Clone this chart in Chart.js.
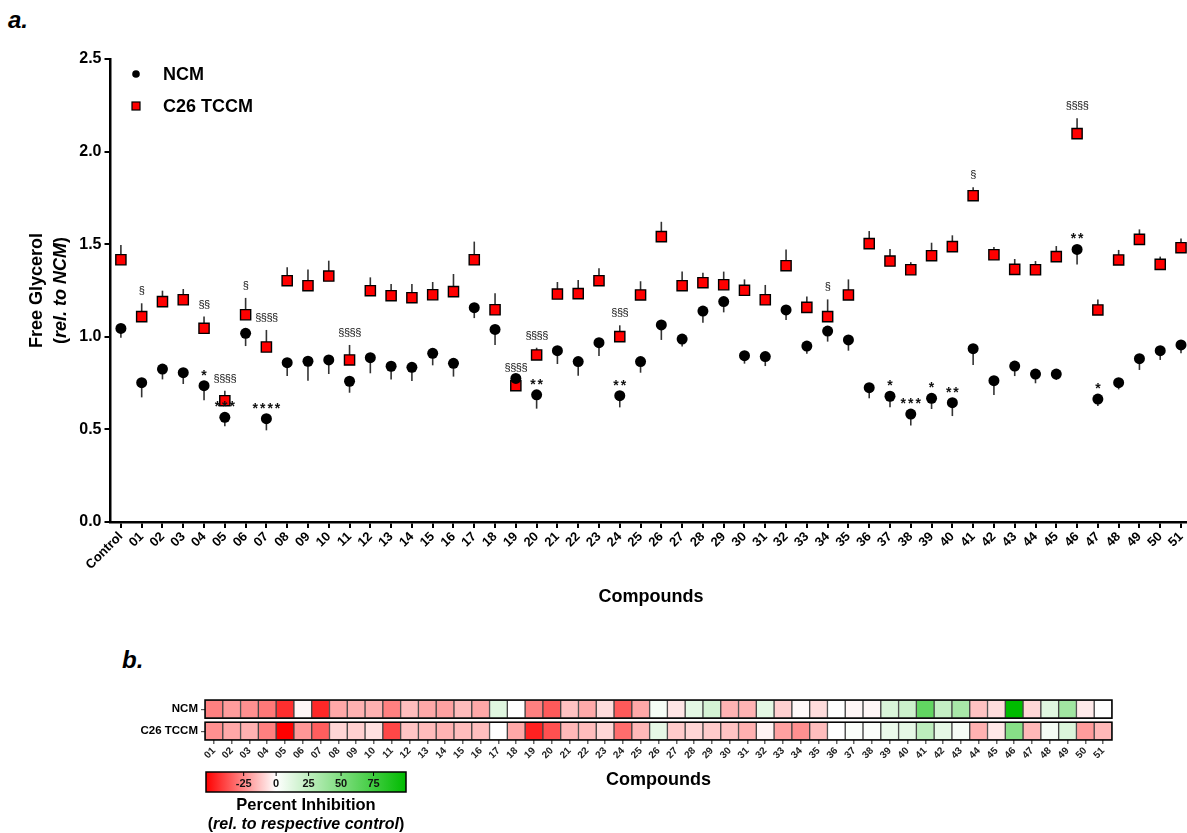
<!DOCTYPE html>
<html lang="en">
<head>
  <meta charset="UTF-8" />
  <title>Free Glycerol screen</title>
  <script src="https://cdn.jsdelivr.net/npm/chart.js"></script>
  <style>
    body {
      margin: 0;
      background: #fff;
      overflow: hidden;
      width: 1187px;
      height: 833px;
      position: relative;
      font-family: Arial, 'Liberation Sans', sans-serif;
    }
    .panel-tag {
      position: absolute;
      font-weight: bold;
      font-style: italic;
      font-size: 24px;
      color: #000;
    }
    #glycerolChart { position: absolute; left: 0; top: 0; }
    #heatChart { position: absolute; left: 0; top: 640px; }
  </style>
</head>
<body>
  <div class="panel-tag" style="left:8px; top:6px;">a.</div>
  <div class="panel-tag" style="left:122px; top:646px;">b.</div>
  <canvas id="glycerolChart" width="1200" height="612"></canvas>
  <canvas id="heatChart" width="1187" height="193"></canvas>

  <script>
    const FONT = "Arial, 'Liberation Sans', sans-serif";

    // ---- panel a: free glycerol ----
    const compounds = ['Control',
      '01','02','03','04','05','06','07','08','09','10',
      '11','12','13','14','15','16','17','18','19','20',
      '21','22','23','24','25','26','27','28','29','30',
      '31','32','33','34','35','36','37','38','39','40',
      '41','42','43','44','45','46','47','48','49','50','51'];

    const ncmMean = [
      1.045, 0.752, 0.826, 0.806, 0.736, 0.565, 1.019, 0.558, 0.860, 0.868,
      0.875, 0.760, 0.887, 0.841, 0.835, 0.911, 0.857, 1.157, 1.040, 0.775,
      0.687, 0.925, 0.866, 0.968, 0.682, 0.866, 1.064, 0.988, 1.139, 1.190,
      0.898, 0.893, 1.145, 0.950, 1.031, 0.983, 0.725, 0.679, 0.583, 0.668,
      0.644, 0.936, 0.763, 0.842, 0.799, 0.799, 1.472, 0.664, 0.752, 0.882,
      0.925, 0.956];
    const ncmSem = [
      0.050, 0.079, 0.056, 0.061, 0.079, 0.048, 0.069, 0.063, 0.072, 0.105,
      0.076, 0.062, 0.084, 0.071, 0.074, 0.065, 0.072, 0.056, 0.084, 0.065,
      0.075, 0.072, 0.076, 0.072, 0.063, 0.060, 0.081, 0.041, 0.063, 0.058,
      0.043, 0.051, 0.054, 0.041, 0.057, 0.058, 0.057, 0.060, 0.062, 0.058,
      0.072, 0.088, 0.077, 0.054, 0.050, 0.032, 0.081, 0.038, 0.036, 0.061,
      0.050, 0.045];

    const tccmMean = [
      1.416, 1.109, 1.190, 1.200, 1.046, 0.655, 1.119, 0.945, 1.303, 1.276,
      1.328, 0.875, 1.249, 1.222, 1.211, 1.227, 1.244, 1.416, 1.146, 0.736,
      0.902, 1.231, 1.233, 1.303, 1.001, 1.226, 1.541, 1.276, 1.292, 1.281,
      1.251, 1.200, 1.384, 1.159, 1.109, 1.226, 1.503, 1.409, 1.362, 1.438,
      1.487, 1.762, 1.443, 1.364, 1.362, 1.433, 2.097, 1.145, 1.415, 1.526,
      1.391, 1.481];
    const tccmSem = [
      0.080, 0.072, 0.059, 0.058, 0.063, 0.054, 0.091, 0.092, 0.072, 0.088,
      0.083, 0.081, 0.072, 0.063, 0.074, 0.069, 0.095, 0.098, 0.089, 0.030,
      0.039, 0.065, 0.074, 0.067, 0.061, 0.074, 0.080, 0.076, 0.054, 0.071,
      0.059, 0.080, 0.088, 0.058, 0.093, 0.084, 0.068, 0.065, 0.041, 0.070,
      0.061, 0.045, 0.042, 0.056, 0.047, 0.057, 0.083, 0.057, 0.054, 0.054,
      0.042, 0.050];

    // * = vs NCM control, § = vs C26 TCCM control
    const ncmSig = [
      '', '', '', '', '*', '***', '', '****', '', '',
      '', '', '', '', '', '', '', '', '', '',
      '**', '', '', '', '**', '', '', '', '', '',
      '', '', '', '', '', '', '', '*', '***', '*',
      '**', '', '', '', '', '', '**', '*', '', '',
      '', ''];
    const tccmSig = [
      '', '§', '', '', '§§', '§§§§', '§', '§§§§', '', '',
      '', '§§§§', '', '', '', '', '', '', '', '§§§§',
      '§§§§', '', '', '', '§§§', '', '', '', '', '',
      '', '', '', '', '§', '', '', '', '', '',
      '', '§', '', '', '', '', '§§§§', '', '', '',
      '', ''];

    const yTicks = [0, 0.5, 1.0, 1.5, 2.0, 2.5];

    // ---- panel b: heatmap ----
    const heatLabels = compounds.slice(1);
    const heatRows = ['C26 TCCM', 'NCM'];
    const ncmInhib = [
      -27, -21, -23.5, -28.5, -44, -2, -45.5, -18.5, -16.5, -16.5,
      -27, -14, -18.5, -20, -14.5, -18.5, 12, 0, -27, -35,
      -13, -18, -7.5, -35, -18.5, 3.5, -5.5, 10.5, 17, -16,
      -16, 10.5, -10, -1.5, -7.5, 0, -2, -2, 15, 20,
      62, 23, 34, -13, -7.5, 100, -8.5, 12, 37, -4.5,
      0];
    const tccmInhib = [
      -23.5, -18.5, -16.5, -27, -54, -22, -34, -9, -10, -6.5,
      -39, -12.5, -14.5, -16, -14, -13.5, 0, -18.5, -47, -37,
      -15, -14, -8.5, -31, -15, 10, -11, -9, -11, -12.5,
      -16.5, -2.5, -20, -23.5, -14, 0, 2, 2, 8, 10,
      26, 10, 4, -16.5, -5, 47, -15, 4, 14, -21,
      -15];
    const colorMin = -54, colorMax = 100;
    const colorTicks = [-25, 0, 25, 50, 75];

    Chart.defaults.font.family = FONT;
    Chart.defaults.color = '#000';

    function heatColor(v) {
      if (v < 0) {
        const t = Math.min(1, v / colorMin);
        const c = Math.round(255 * (1 - t));
        return `rgb(255,${c},${c})`;
      }
      const t = Math.min(1, v / colorMax);
      const c = Math.round(255 * (1 - t));
      return `rgb(${c},${Math.round(255 - 68 * t)},${c})`;
    }

    // error bars: NCM downwards, TCCM upwards
    const errorBars = {
      id: 'errorBars',
      beforeDatasetsDraw(chart) {
        const { ctx, scales: { y } } = chart;
        ctx.save();
        ctx.strokeStyle = '#333';
        ctx.lineWidth = 1.6;
        [[0, ncmSem, -1], [1, tccmSem, 1]].forEach(([di, sem, dir]) => {
          const vals = chart.data.datasets[di].data;
          chart.getDatasetMeta(di).data.forEach((pt, i) => {
            ctx.beginPath();
            ctx.moveTo(pt.x, pt.y);
            ctx.lineTo(pt.x, y.getPixelForValue(vals[i] + dir * sem[i]));
            ctx.stroke();
          });
        });
        ctx.restore();
      }
    };

    const sigMarks = {
      id: 'sigMarks',
      afterDatasetsDraw(chart) {
        const { ctx, scales: { y } } = chart;
        ctx.save();
        ctx.textAlign = 'center';
        ctx.textBaseline = 'alphabetic';
        ctx.fillStyle = '#111';
        const ncmPts = chart.getDatasetMeta(0).data;
        const tccmPts = chart.getDatasetMeta(1).data;
        ctx.font = `bold 14px ${FONT}`;
        ctx.letterSpacing = '2px';
        ncmSig.forEach((s, i) => {
          if (!s) return;
          ctx.fillText(s, ncmPts[i].x + 1, ncmPts[i].y - 6);
        });
        ctx.font = `11px ${FONT}`;
        ctx.letterSpacing = '-0.5px';
        tccmSig.forEach((s, i) => {
          if (!s) return;
          const top = y.getPixelForValue(tccmMean[i] + tccmSem[i]);
          ctx.fillText(s, tccmPts[i].x, top - 9);
        });
        ctx.restore();
      }
    };

    const sideText = {
      id: 'sideText',
      afterDraw(chart) {
        const { ctx, chartArea } = chart;
        ctx.save();
        // legend
        ctx.fillStyle = '#000';
        ctx.beginPath();
        ctx.arc(136, 74, 3.8, 0, Math.PI * 2);
        ctx.fill();
        ctx.fillStyle = '#ff0000';
        ctx.strokeStyle = '#000';
        ctx.lineWidth = 1.2;
        ctx.fillRect(132, 102, 8, 8);
        ctx.strokeRect(132, 102, 8, 8);
        ctx.fillStyle = '#000';
        ctx.font = `bold 18px ${FONT}`;
        ctx.textBaseline = 'middle';
        ctx.textAlign = 'left';
        ctx.fillText(chart.data.datasets[0].label, 163, 75);
        ctx.fillText(chart.data.datasets[1].label, 163, 107);

        // y title, two lines, second one partly italic
        const yc = (chartArea.top + chartArea.bottom) / 2;
        ctx.translate(0, yc);
        ctx.rotate(-Math.PI / 2);
        ctx.textAlign = 'center';
        ctx.fillText('Free Glycerol', 0, 37);
        const parts = [['(', 'bold'], ['rel. to NCM', 'italic bold'], [')', 'bold']];
        let total = 0;
        parts.forEach(p => { ctx.font = `${p[1]} 18px ${FONT}`; total += ctx.measureText(p[0]).width; });
        let x = -total / 2;
        ctx.textAlign = 'left';
        parts.forEach(p => {
          ctx.font = `${p[1]} 18px ${FONT}`;
          ctx.fillText(p[0], x, 61);
          x += ctx.measureText(p[0]).width;
        });
        ctx.restore();
      }
    };

    new Chart(document.getElementById('glycerolChart'), {
      type: 'line',
      data: {
        labels: compounds,
        datasets: [
          { label: 'NCM', data: ncmMean, showLine: false, pointStyle: 'circle', pointRadius: 5.5,
            backgroundColor: '#000', borderColor: '#000', pointBorderWidth: 0 },
          { label: 'C26 TCCM', data: tccmMean, showLine: false, pointStyle: 'rect', pointRadius: 7.2,
            backgroundColor: '#ff0000', borderColor: '#000', pointBorderWidth: 1.4 }
        ]
      },
      options: {
        responsive: false,
        animation: false,
        devicePixelRatio: 1,
        layout: { padding: { top: 59, right: 1.5, left: 0, bottom: 0 } },
        plugins: { legend: { display: false }, tooltip: { enabled: false } },
        scales: {
          x: {
            offset: true,
            afterFit(s) { s.height = 90; },
            grid: { drawOnChartArea: false, offset: false, tickLength: 6, color: '#000', lineWidth: 2 },
            border: { color: '#000', width: 2.5 },
            ticks: { autoSkip: false, minRotation: 45, maxRotation: 45, padding: 1,
              font: { size: 13, weight: 'bold' }, color: '#000' },
            title: { display: true, text: 'Compounds', font: { size: 18, weight: 'bold' }, color: '#000',
              padding: { top: 4, bottom: 4 } }
          },
          y: {
            min: 0, max: 2.5,
            afterFit(s) { s.width = 110.5; },
            afterBuildTicks(s) { s.ticks = yTicks.map(v => ({ value: v })); },
            grid: { drawOnChartArea: false, tickLength: 6, color: '#000', lineWidth: 2 },
            border: { color: '#000', width: 2.5 },
            ticks: { padding: 3, font: { size: 16, weight: 'bold' }, color: '#000',
              callback: v => Number(v).toFixed(1) }
          }
        }
      },
      plugins: [errorBars, sigMarks, sideText]
    });

    // heatmap extras: row outlines + colour bar
    const heatExtras = {
      id: 'heatExtras',
      afterDatasetsDraw(chart) {
        const { ctx, chartArea, scales: { y } } = chart;
        ctx.save();
        ctx.strokeStyle = '#000';
        ctx.lineWidth = 1.5;
        chart.data.datasets.forEach(ds => {
          const [a, b] = ds.data[0];
          const top = y.getPixelForValue(b), bot = y.getPixelForValue(a);
          ctx.strokeRect(chartArea.left, top, chartArea.right - chartArea.left, bot - top);
        });
        ctx.restore();
      },
      afterDraw(chart) {
        const { ctx } = chart;
        const x0 = 206, x1 = 406, y0 = 132, y1 = 152;
        const px = v => x0 + (v - colorMin) / (colorMax - colorMin) * (x1 - x0);
        ctx.save();
        const g = ctx.createLinearGradient(x0, 0, x1, 0);
        g.addColorStop(0, heatColor(colorMin));
        g.addColorStop(-colorMin / (colorMax - colorMin), heatColor(0));
        g.addColorStop(1, heatColor(colorMax));
        ctx.fillStyle = g;
        ctx.fillRect(x0, y0, x1 - x0, y1 - y0);
        ctx.strokeStyle = '#000';
        ctx.lineWidth = 1.5;
        ctx.strokeRect(x0, y0, x1 - x0, y1 - y0);
        ctx.lineWidth = 1;
        ctx.fillStyle = '#111';
        ctx.font = `bold 11px ${FONT}`;
        ctx.textAlign = 'center';
        ctx.textBaseline = 'middle';
        colorTicks.forEach(v => {
          const x = px(v);
          ctx.beginPath();
          ctx.moveTo(x, y0);
          ctx.lineTo(x, y0 + 4);
          ctx.stroke();
          ctx.fillText(String(v), x, y0 + 12);
        });
        ctx.fillStyle = '#000';
        ctx.font = `bold 16.5px ${FONT}`;
        ctx.fillText('Percent Inhibition', 306, 165);
        const parts = [['(', 'bold'], ['rel. to respective control', 'italic bold'], [')', 'bold']];
        let total = 0;
        parts.forEach(p => { ctx.font = `${p[1]} 16px ${FONT}`; total += ctx.measureText(p[0]).width; });
        let x = 306 - total / 2;
        ctx.textAlign = 'left';
        parts.forEach(p => {
          ctx.font = `${p[1]} 16px ${FONT}`;
          ctx.fillText(p[0], x, 185);
          x += ctx.measureText(p[0]).width;
        });
        ctx.restore();
      }
    };

    const ncmRow = [1.09, 2];
    const tccmRow = [0, 0.89];

    new Chart(document.getElementById('heatChart'), {
      type: 'bar',
      data: {
        labels: heatLabels,
        datasets: [
          { label: 'NCM', data: ncmInhib.map(() => ncmRow), backgroundColor: ncmInhib.map(heatColor) },
          { label: 'C26 TCCM', data: tccmInhib.map(() => tccmRow), backgroundColor: tccmInhib.map(heatColor) }
        ]
      },
      options: {
        responsive: false,
        animation: false,
        devicePixelRatio: 1,
        layout: { padding: { top: 60, right: 75, bottom: 38, left: 0 } },
        datasets: {
          bar: { grouped: false, barPercentage: 1, categoryPercentage: 1,
            borderWidth: 1, borderColor: '#444', borderSkipped: false }
        },
        plugins: { legend: { display: false }, tooltip: { enabled: false } },
        scales: {
          x: {
            afterFit(s) { s.height = 55; },
            grid: { drawOnChartArea: false, offset: false, tickLength: 4, color: '#666', lineWidth: 1.5 },
            border: { display: false },
            ticks: { autoSkip: false, minRotation: 45, maxRotation: 45, padding: 1,
              font: { size: 10, weight: 'bold' }, color: '#222' },
            title: { display: true, text: 'Compounds', font: { size: 18, weight: 'bold' }, color: '#000',
              padding: { top: 4, bottom: 4 } }
          },
          y: {
            min: 0, max: 2,
            afterFit(s) { s.width = 205; },
            afterBuildTicks(s) { s.ticks = [{ value: 0.445 }, { value: 1.545 }]; },
            grid: { drawOnChartArea: false, tickLength: 4, color: '#555', lineWidth: 1.2 },
            border: { display: false },
            ticks: { padding: 3, font: { size: 11.5, weight: 'bold' }, color: '#000',
              callback: (v, i) => heatRows[i] }
          }
        }
      },
      plugins: [heatExtras]
    });
  </script>
</body>
</html>
